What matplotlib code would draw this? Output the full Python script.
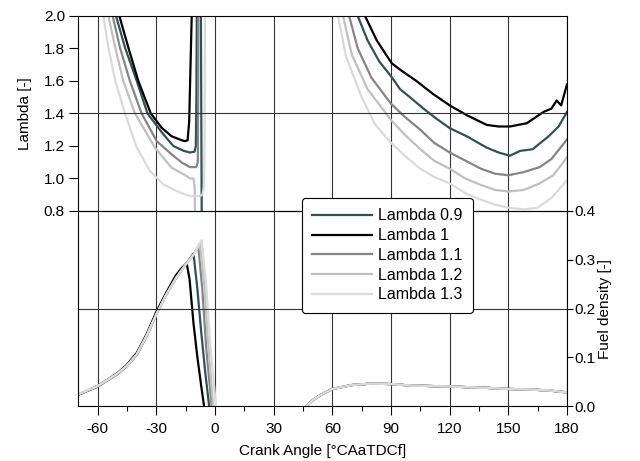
import matplotlib.pyplot as plt
from matplotlib.ticker import MultipleLocator

plt.rcParams['font.family'] = ['Liberation Sans', 'DejaVu Sans']
plt.rcParams['font.size'] = 11
plt.rcParams['axes.unicode_minus'] = False

labels = ['Lambda 0.9', 'Lambda 1', 'Lambda 1.1', 'Lambda 1.2', 'Lambda 1.3']
colors = ['#2f5350', '#000000', '#858585', '#c0c0c0', '#dadada']

# lambda before ignition (crank angle, lambda)
lam_l_x = [
    [-50.6, -46, -40, -34.5, -26.4, -21.3, -16, -12.8, -10.5, -9.8, -9.5, -9.3],
    [-48.9, -44.3, -39.2, -32.8, -27.3, -22.2, -17, -15.3, -14, -13.2, -12.5, -11.9],
    [-52.3, -48.6, -43.5, -37.5, -29.8, -22.2, -17, -12.8, -9.6, -8.8, -8.6, -8.5],
    [-54.5, -51, -46.9, -40.9, -30.7, -22.2, -14.5, -12.8, -11, -10.4, -10.2],
    [-57.1, -54.5, -51, -46, -40, -33.2, -26.4, -17.9, -12.8, -7.7, -6.5, -5.6, -5.3, -5.1],
]
lam_l_y = [
    [2.0, 1.806, 1.6, 1.4, 1.272, 1.2, 1.17, 1.16, 1.165, 1.2, 1.5, 2.0],
    [2.0, 1.806, 1.6, 1.4, 1.313, 1.26, 1.235, 1.23, 1.235, 1.35, 1.7, 2.0],
    [2.0, 1.806, 1.6, 1.4, 1.23, 1.149, 1.098, 1.07, 1.07, 1.1, 1.5, 2.0],
    [2.0, 1.806, 1.6, 1.4, 1.19, 1.067, 1.015, 1.0, 1.0, 0.95, 0.8],
    [2.0, 1.806, 1.6, 1.4, 1.19, 1.046, 0.964, 0.913, 0.892, 0.892, 0.9, 0.95, 1.3, 2.0],
]
# extra falling branch of lambda 0.9 right after combustion
lam09_fall_x = [-7.2, -6.8]
lam09_fall_y = [2.0, 0.8]

# lambda after combustion
lam_r_x = [
    [73, 78, 84, 90, 94.6, 99.7, 106.6, 113, 120, 128.7, 138.9, 145, 150.8, 156, 162.4, 170.6, 175.7, 180],
    [76.7, 82.7, 90.3, 94.6, 103, 111.5, 120, 128.7, 138.9, 145, 150.8, 159.4, 168, 172, 174.7, 177, 180],
    [68.6, 73, 80, 90, 97, 105, 112, 120, 128, 136, 143, 150, 158, 166, 172, 180],
    [65.5, 70, 78, 90, 97, 105, 112, 120, 128, 136, 143, 150, 158, 166, 173, 180],
    [62.9, 67, 75, 82, 90, 97, 105, 112, 120, 128, 136, 143, 150, 158, 165, 172, 180],
]
lam_r_y = [
    [2.0, 1.85, 1.72, 1.63, 1.55, 1.5, 1.43, 1.37, 1.31, 1.26, 1.19, 1.16, 1.14, 1.17, 1.18, 1.26, 1.32, 1.41],
    [2.0, 1.85, 1.71, 1.67, 1.6, 1.52, 1.45, 1.39, 1.33, 1.32, 1.32, 1.34, 1.41, 1.43, 1.48, 1.45, 1.58],
    [2.0, 1.8, 1.62, 1.46, 1.38, 1.3, 1.22, 1.16, 1.11, 1.06, 1.03, 1.02, 1.04, 1.07, 1.12, 1.24],
    [2.0, 1.76, 1.55, 1.36, 1.27, 1.18, 1.11, 1.06, 1.0, 0.96, 0.93, 0.92, 0.93, 0.97, 1.02, 1.13],
    [2.0, 1.75, 1.5, 1.33, 1.22, 1.14, 1.06, 1.01, 0.97, 0.91, 0.87, 0.84, 0.82, 0.81, 0.82, 0.88, 0.99],
]

# fuel density around injection
fuel_l_x = [
    [-70, -60, -50, -45, -40, -35, -30, -25, -20, -15, -11, -9, -7, -5, -3],
    [-70, -60, -50, -45, -40, -35, -30, -25, -20, -17, -14.5, -13, -11, -9, -7, -5.6],
    [-70, -60, -50, -45, -40, -35, -30, -25, -20, -15, -11, -8.5, -6.5, -4.5, -1.7],
    [-70, -60, -50, -45, -40, -35, -30, -25, -20, -15, -11, -7.7, -5.5, -3.5, -1],
    [-70, -60, -50, -45, -40, -35, -30, -25, -20, -15, -11, -6.8, -4.5, -2.5, 0.5],
]
fuel_l_y = [
    [0.023, 0.04, 0.065, 0.082, 0.105, 0.143, 0.188, 0.228, 0.262, 0.29, 0.313, 0.24, 0.15, 0.07, 0.0],
    [0.023, 0.041, 0.067, 0.085, 0.109, 0.147, 0.193, 0.232, 0.268, 0.283, 0.293, 0.26, 0.17, 0.10, 0.04, 0.0],
    [0.023, 0.04, 0.065, 0.082, 0.105, 0.143, 0.188, 0.228, 0.262, 0.29, 0.31, 0.327, 0.24, 0.12, 0.0],
    [0.024, 0.041, 0.066, 0.083, 0.106, 0.144, 0.188, 0.228, 0.262, 0.29, 0.31, 0.334, 0.25, 0.13, 0.0],
    [0.024, 0.041, 0.066, 0.083, 0.106, 0.144, 0.188, 0.228, 0.262, 0.29, 0.31, 0.34, 0.25, 0.13, 0.0],
]
fuel_r_x = [46.8, 50, 55, 60, 70, 80, 90, 100, 120, 140, 150, 160, 170, 180]
fuel_r_y = [0.0, 0.012, 0.025, 0.035, 0.043, 0.046, 0.045, 0.042, 0.040, 0.037, 0.035, 0.034, 0.032, 0.028]

fig = plt.figure(figsize=(6.4, 4.61), dpi=100)
ax1 = fig.add_axes([0.122, 0.5423, 0.764, 0.423])
ax2 = fig.add_axes([0.122, 0.1193, 0.764, 0.423])
ax1.set_zorder(2)
ax1.patch.set_alpha(0)

lw = 1.6
for i in range(5):
    ax1.plot(lam_l_x[i], lam_l_y[i], color=colors[i], lw=lw, label=labels[i])
    ax1.plot(lam_r_x[i], lam_r_y[i], color=colors[i], lw=lw)
    if i == 0:
        ax1.plot(lam09_fall_x, lam09_fall_y, color=colors[i], lw=lw)
    ax2.plot(fuel_l_x[i], fuel_l_y[i], color=colors[i], lw=lw)
    ax2.plot(fuel_r_x, fuel_r_y, color=colors[i], lw=lw)

for ax in (ax1, ax2):
    ax.set_xlim(-70, 180)
    ax.xaxis.set_major_locator(MultipleLocator(30))
    ax.xaxis.set_minor_locator(MultipleLocator(15))
    ax.grid(True, axis='x', color='#333333', lw=0.8)
    ax.tick_params(axis='x', which='major', direction='out', length=6.5, width=0.8, pad=5)
    ax.tick_params(axis='x', which='minor', direction='out', length=3.5, width=0.8)

ax1.set_ylim(0.8, 2.0)
ax1.yaxis.set_major_locator(MultipleLocator(0.2))
ax1.yaxis.set_major_formatter('{x:.1f}')
ax1.axhline(1.4, color='#333333', lw=0.8)
ax1.tick_params(axis='x', which='both', bottom=False, labelbottom=False)
ax1.tick_params(axis='y', direction='out', length=6.5, width=0.8, pad=3)
ax1.set_ylabel('Lambda [-]')
ax1.yaxis.set_label_coords(-0.094, 0.5)

ax2.set_ylim(0, 0.4)
ax2.yaxis.set_major_locator(MultipleLocator(0.1))
ax2.yaxis.set_major_formatter('{x:.1f}')
ax2.axhline(0.2, color='#333333', lw=0.8)
ax2.yaxis.tick_right()
ax2.yaxis.set_label_position('right')
ax2.tick_params(axis='y', direction='out', length=4.5, width=0.8, pad=0.5)
ax2.set_ylabel('Fuel density [-]')
ax2.yaxis.set_label_coords(1.064, 0.5)
ax2.set_xlabel('Crank Angle [°CAaTDCf]', labelpad=6)

leg = ax1.legend(loc='upper left', bbox_to_anchor=(0.458, 0.067), frameon=True,
                 fancybox=True, framealpha=1, edgecolor='black', fontsize=11.5,
                 handlelength=3.7, labelspacing=0.3, borderpad=0.65,
                 handletextpad=0.4, borderaxespad=0)
leg.get_frame().set_linewidth(0.8)

fig.savefig('out.png', dpi=100)
